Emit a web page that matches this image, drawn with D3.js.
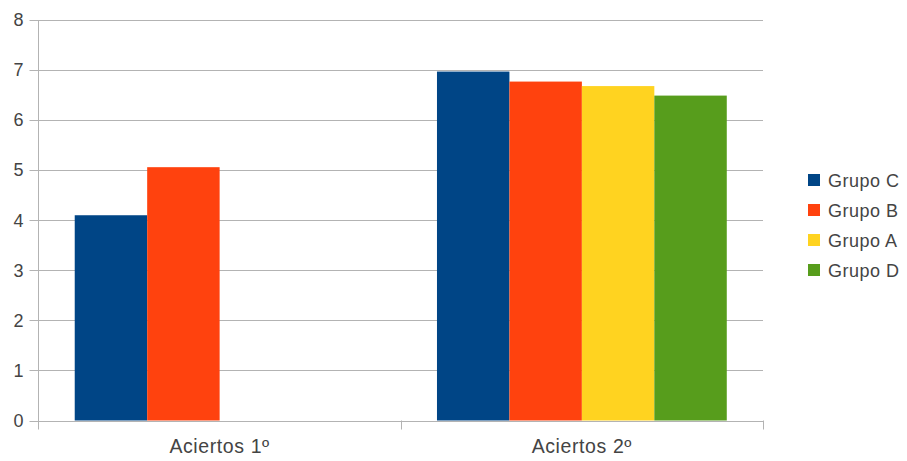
<!DOCTYPE html>
<html>
<head>
<meta charset="utf-8">
<script src="https://cdn.jsdelivr.net/npm/d3@7"></script>
<style>
  html, body { margin: 0; padding: 0; background: #fff; }
  svg { display: block; font-family: "Liberation Sans", Arial, sans-serif; }
</style>
</head>
<body>
<svg id="chart" width="907" height="461"></svg>
<script>
// Category labels along the x axis
const categories = ["Aciertos 1º", "Aciertos 2º"];
// Series names, in legend order
const seriesNames = ["Grupo C", "Grupo B", "Grupo A", "Grupo D"];
// Values per series, one entry per category (null = no bar)
const grupoC = [4.1, 6.97];
const grupoB = [5.06, 6.77];
const grupoA = [null, 6.68];
const grupoD = [null, 6.49];
const seriesColors = ["#004586", "#ff420e", "#ffd320", "#579d1c"];
const yTicks = [0, 1, 2, 3, 4, 5, 6, 7, 8];

const seriesValues = [grupoC, grupoB, grupoA, grupoD];

const svg = d3.select("#chart");
const W = 907, H = 461;
const margin = { left: 38.5, right: W - 763, top: 20, bottom: H - 420.5 };
const x0 = margin.left, x1 = W - margin.right;
const yTop = margin.top, yBot = H - margin.bottom;

const x = d3.scaleBand().domain(categories).range([x0, x1]).paddingInner(0).paddingOuter(0);
const xs = d3.scaleBand().domain(seriesNames).range([0, x.bandwidth()]).paddingInner(0).paddingOuter(0.5);
const y = d3.scaleLinear().domain([0, 8]).range([yBot, yTop]);

const gridColor = "#b3b3b3";
const textColor = "#444";
const fontSize = 18;

// horizontal gridlines with left tick stubs
svg.append("g")
  .selectAll("line")
  .data(yTicks)
  .join("line")
  .attr("x1", x0 - 9).attr("x2", x1)
  .attr("y1", d => Math.round(y(d)) + 0.5).attr("y2", d => Math.round(y(d)) + 0.5)
  .attr("stroke", gridColor).attr("stroke-width", 1);

// y axis labels
svg.append("g")
  .selectAll("text")
  .data(yTicks)
  .join("text")
  .attr("x", x0 - 15)
  .attr("y", d => y(d))
  .attr("dy", "0.35em")
  .attr("text-anchor", "end")
  .attr("font-size", fontSize)
  .attr("fill", textColor)
  .text(d => d);

// bars
const barGroups = svg.append("g")
  .selectAll("g")
  .data(seriesNames.map((name, i) => ({ name, color: seriesColors[i], values: seriesValues[i] })))
  .join("g")
  .attr("fill", d => d.color);

barGroups.selectAll("rect")
  .data(d => categories.map((c, j) => ({ cat: c, name: d.name, v: d.values[j] })).filter(e => e.v != null))
  .join("rect")
  .attr("x", d => x(d.cat) + xs(d.name))
  .attr("width", xs.bandwidth())
  .attr("y", d => y(d.v))
  .attr("height", d => y(0) - y(d.v));

// vertical axis line
svg.append("line")
  .attr("x1", x0).attr("x2", x0)
  .attr("y1", yTop).attr("y2", yBot + 9)
  .attr("stroke", gridColor);

// category boundary ticks below the axis
const boundaries = [x0 + x.bandwidth(), x1];
svg.append("g")
  .selectAll("line")
  .data(boundaries)
  .join("line")
  .attr("x1", d => Math.round(d) + 0.5).attr("x2", d => Math.round(d) + 0.5)
  .attr("y1", yBot).attr("y2", yBot + 9)
  .attr("stroke", gridColor);

// x axis labels
svg.append("g")
  .selectAll("text")
  .data(categories)
  .join("text")
  .attr("x", d => x(d) + x.bandwidth() / 2)
  .attr("y", yBot + 32.5)
  .attr("text-anchor", "middle")
  .attr("font-size", 19.5)
  .attr("letter-spacing", 0.6)
  .attr("fill", textColor)
  .text(d => d);

// legend
const legend = svg.append("g").attr("transform", "translate(808,174)");
const item = legend.selectAll("g")
  .data(seriesNames)
  .join("g")
  .attr("transform", (d, i) => `translate(0,${i * 30})`);
item.append("rect")
  .attr("width", 12).attr("height", 12)
  .attr("fill", (d, i) => seriesColors[i]);
item.append("text")
  .attr("x", 20).attr("y", 6.5)
  .attr("dy", "0.35em")
  .attr("font-size", fontSize)
  .attr("letter-spacing", 0.5)
  .attr("fill", textColor)
  .text(d => d);
</script>
</body>
</html>
